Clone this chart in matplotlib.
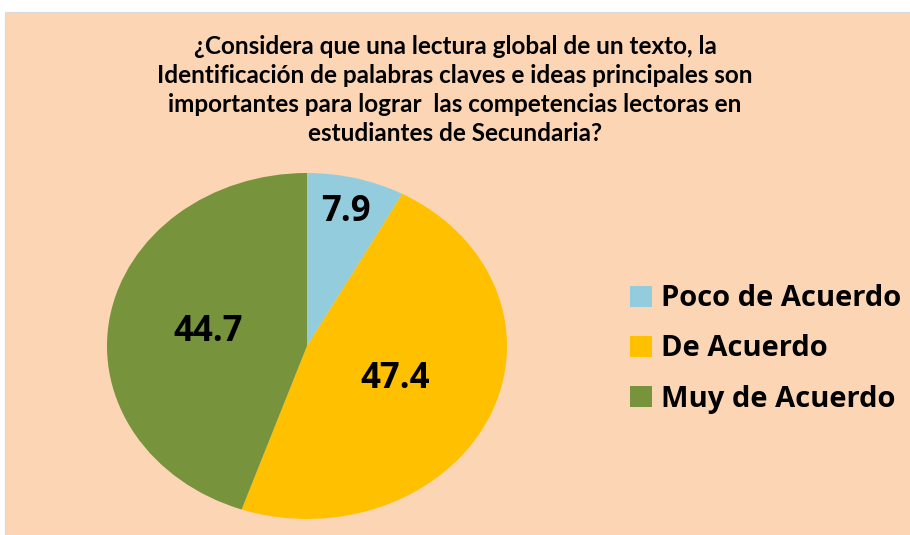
import numpy as np
import matplotlib.pyplot as plt
from matplotlib.patches import Rectangle

# Data
categories = ["Poco de Acuerdo", "De Acuerdo", "Muy de Acuerdo"]
values = [7.9, 47.4, 44.7]
colors = ["#93CDDD", "#FFC000", "#77933C"]
label_radius = [0.80, 0.48, 0.50]

title = ("¿Considera que una lectura global de un texto, la\n"
         "Identificación de palabras claves e ideas principales son\n"
         "importantes para lograr  las competencias lectoras en\n"
         "estudiantes de Secundaria?")

W, H = 910, 535
fig = plt.figure(figsize=(W / 100, H / 100), dpi=100, facecolor="white")

# peach chart area
fig.patches.append(Rectangle((5 / W, 0), 1 - 5 / W, (H - 12) / H,
                             transform=fig.transFigure, facecolor="#FCD5B5",
                             edgecolor="#D9D9D9", lw=0.8, zorder=-5))

fig.text(455 / W, 1 - 90 / H, title, ha="center", va="center",
         fontsize=17.5, fontweight="bold", linespacing=1.32,
         family=["Liberation Sans Narrow", "Lato", "DejaVu Sans"])

ax = fig.add_axes([107 / W, 16 / H, 400 / W, 346 / H], zorder=2)
ax.patch.set_visible(False)
wedges, _ = ax.pie(values, colors=colors, startangle=90, counterclock=False,
                   wedgeprops=dict(linewidth=0))
ax.set_aspect("auto")
ax.set_xlim(-1, 1)
ax.set_ylim(-1, 1)
ax.axis("off")

for w, v, r in zip(wedges, values, label_radius):
    ang = np.deg2rad((w.theta1 + w.theta2) / 2)
    ax.text(r * np.cos(ang), r * np.sin(ang), f"{v:.1f}", ha="center", va="center",
            fontsize=25, fontweight="bold", family=["Open Sans", "DejaVu Sans"])

leg = fig.legend(wedges, categories, loc="center left",
                 bbox_to_anchor=(604 / W, 1 - 349 / H), frameon=False,
                 prop=dict(family=["Open Sans", "DejaVu Sans"], weight="bold", size=21),
                 handlelength=0.75, handleheight=0.75, handletextpad=0.3,
                 labelspacing=0.72)

fig.savefig("out.png", dpi=100, facecolor=fig.get_facecolor())
